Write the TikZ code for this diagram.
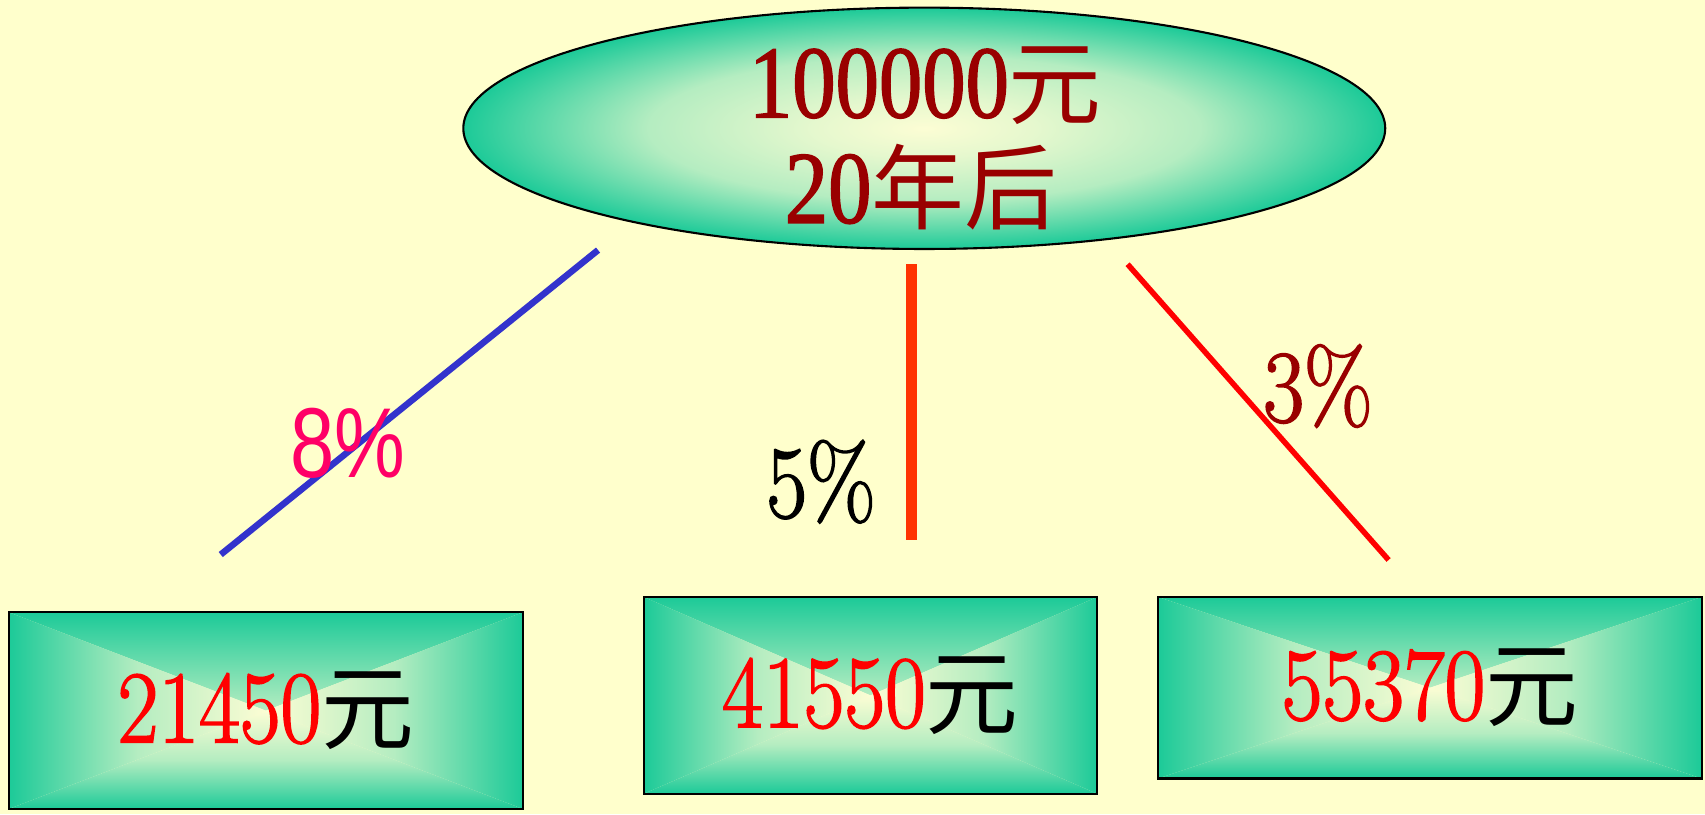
\documentclass[tikz,border=0pt]{standalone}
\usepackage{fontspec}
\usetikzlibrary{shapes.geometric}
\newfontfamily\cjk{Noto Sans CJK SC}[Scale=0.9]
\newfontfamily\numfont{Latin Modern Roman}[FakeStretch=0.86,FakeBold=1.6]
\newfontfamily\topfont{Liberation Serif}[FakeStretch=0.84,FakeBold=1.4]
\newfontfamily\sansnarrow{Liberation Sans}[FakeStretch=0.8]
\definecolor{bgcream}{RGB}{255,255,204}
\definecolor{edgeteal}{RGB}{28,202,152}
\definecolor{lightcore}{RGB}{252,253,212}
\colorlet{midmint}{lightcore!68!edgeteal}
\definecolor{darkred}{RGB}{153,0,0}
\definecolor{pinkred}{RGB}{255,0,102}
\definecolor{lineblue}{RGB}{51,51,204}
\definecolor{lineorange}{RGB}{255,51,0}
\pgfdeclareradialshading{ovalglow}{\pgfpoint{0bp}{0bp}}{color(0bp)=(lightcore); color(6bp)=(lightcore!90!edgeteal); color(15bp)=(midmint); color(25bp)=(edgeteal); color(50bp)=(edgeteal)}
% rectangle gradient: four triangles from the edges to the centre
\newcommand\boxshade{%
  \shade[top color=edgeteal,bottom color=lightcore,middle color=midmint] (path picture bounding box.north west) -- (path picture bounding box.north east) -- (path picture bounding box.center) -- cycle;
  \shade[bottom color=edgeteal,top color=lightcore,middle color=midmint] (path picture bounding box.south west) -- (path picture bounding box.south east) -- (path picture bounding box.center) -- cycle;
  \shade[left color=edgeteal,right color=lightcore,middle color=midmint] (path picture bounding box.north west) -- (path picture bounding box.south west) -- (path picture bounding box.center) -- cycle;
  \shade[right color=edgeteal,left color=lightcore,middle color=midmint] (path picture bounding box.north east) -- (path picture bounding box.south east) -- (path picture bounding box.center) -- cycle;}
\begin{document}
\begin{tikzpicture}[x=0.02cm,y=-0.02cm,
  oval/.style={ellipse, draw=black, line width=1.1pt, inner sep=0pt, shading=ovalglow},
  toptext/.style={inner sep=0pt, text=darkred, font=\topfont\fontsize{54}{60}\selectfont},
  valbox/.style={draw=black, line width=1.1pt, inner sep=0pt, text=red, font=\numfont\fontsize{54}{60}\selectfont, path picture={\boxshade}},
  rate/.style={inner sep=0pt, font=\numfont\fontsize{54}{60}\selectfont}]
\useasboundingbox (0,0) rectangle (1568,749);
\fill[bgcream] (0,0) rectangle (1568,749);
% top ellipse
\node[oval, minimum width=16.96cm, minimum height=4.44cm] (total) at (850,118) {};
\node[toptext, anchor=base] (sumline) at (851,108) {100000{\cjk 元}};
\node[toptext, anchor=base] (yearline) at (847,205) {20{\cjk 年后}};
% result boxes
\node[valbox, minimum width=9.46cm, minimum height=3.62cm] (lowbox) at (244.5,653.5) {21450{\cjk\color{black}元}};
\node[valbox, minimum width=8.34cm, minimum height=3.62cm] (midbox) at (800.5,639.5) {41550{\cjk\color{black}元}};
\node[valbox, minimum width=10cm, minimum height=3.34cm] (highbox) at (1315,632.5) {55370{\cjk\color{black}元}};
% rate lines
\coordinate (eightA) at (550,230);
\coordinate (eightB) at (203,510);
\coordinate (fiveA) at (838,243);
\coordinate (fiveB) at (838,497);
\coordinate (threeA) at (1037,243);
\coordinate (threeB) at (1277,515);
\draw[draw=lineblue, line width=3.4pt] (eightA)--(eightB);
\draw[draw=lineorange, line width=5.6pt] (fiveA)--(fiveB);
\draw[draw=red, line width=2.9pt] (threeA)--(threeB);
% rate labels
\node[rate, text=pinkred, font=\sansnarrow\fontsize{52}{60}\selectfont] (eight) at (320,408) {8\%};
\node[rate, text=black] (five) at (755,443) {5\%};
\node[rate, text=darkred] (three) at (1212,355) {3\%};
\end{tikzpicture}
\end{document}
